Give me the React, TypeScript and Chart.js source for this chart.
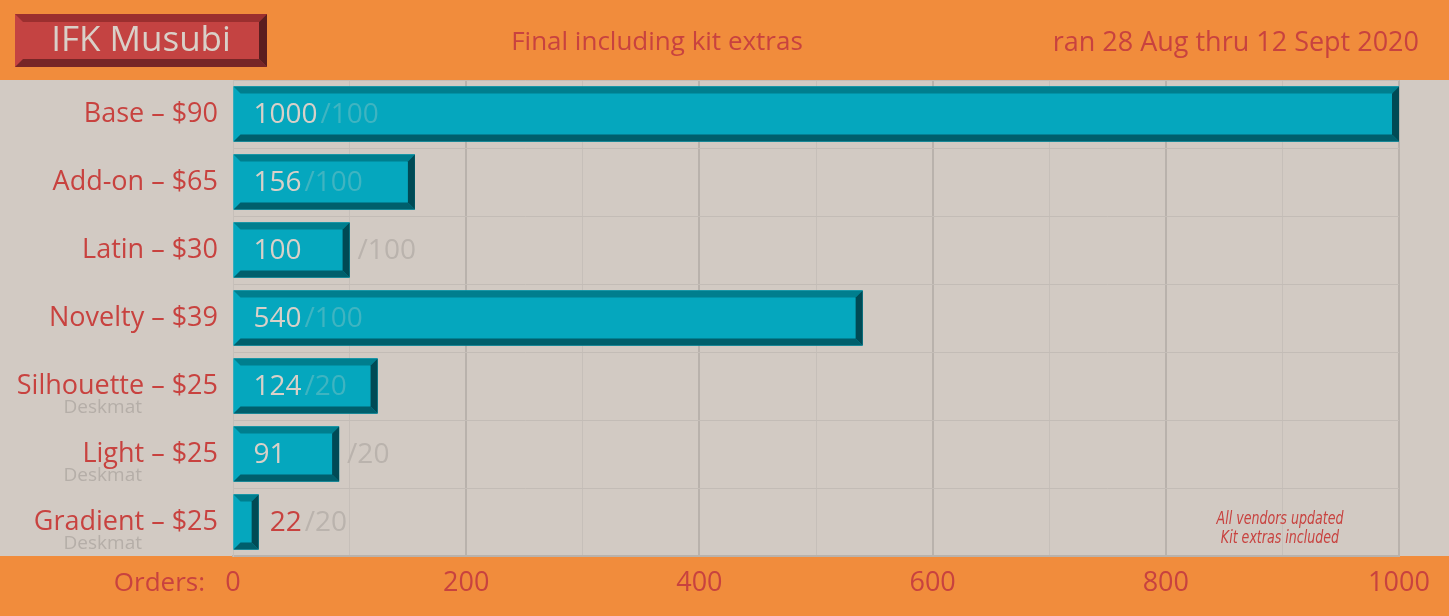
import React, { useEffect, useRef } from 'react';
import { Chart, registerables } from 'chart.js';

Chart.register(...registerables);

const categories = ['Base – $90', 'Add-on – $65', 'Latin – $30', 'Novelty – $39', 'Silhouette – $25', 'Light – $25', 'Gradient – $25'];
const subLabels = ['', '', '', '', 'Deskmat', 'Deskmat', 'Deskmat'];
const orders = [1000, 156, 100, 540, 124, 91, 22];
const minimums = [100, 100, 100, 100, 20, 20, 20];
const xMin = 0;
const xMax = 1000;
const xGridStep = 100;
const xLabelStep = 200;
const title = 'IFK Musubi';
const subtitle = 'Final including kit extras';
const dateRange = 'ran 28 Aug thru 12 Sept 2020';
const axisTitle = 'Orders:';
const noteLines = ['All vendors updated', 'Kit extras included'];

const FONT = "'Open Sans', 'Noto Sans', sans-serif";
const ORANGE = '#F18C3C';
const BEIGE = '#D2CAC3';
const RED = '#C8423F';
const LIGHT = '#D9D0C8';
const GRAY = '#BAB3AD';

function bevelRect(
  ctx: CanvasRenderingContext2D,
  l: number, t: number, r: number, b: number, s: number,
  fill: string, top: string, bottom: string, right: string
) {
  ctx.fillStyle = fill;
  ctx.fillRect(l, t, r - l, b - t);
  ctx.fillStyle = top;
  ctx.beginPath();
  ctx.moveTo(l, t); ctx.lineTo(r, t); ctx.lineTo(r - s, t + s); ctx.lineTo(l + s, t + s);
  ctx.closePath(); ctx.fill();
  ctx.fillStyle = bottom;
  ctx.beginPath();
  ctx.moveTo(l, b); ctx.lineTo(r, b); ctx.lineTo(r - s, b - s); ctx.lineTo(l + s, b - s);
  ctx.closePath(); ctx.fill();
  ctx.fillStyle = right;
  ctx.beginPath();
  ctx.moveTo(r, t); ctx.lineTo(r, b); ctx.lineTo(r - s, b - s); ctx.lineTo(r - s, t + s);
  ctx.closePath(); ctx.fill();
}

const decorPlugin = {
  id: 'decor',
  beforeDraw(chart: any) {
    const ctx: CanvasRenderingContext2D = chart.ctx;
    const { width, height, chartArea } = chart;
    ctx.save();
    ctx.fillStyle = BEIGE;
    ctx.fillRect(0, 0, width, height);
    ctx.fillStyle = ORANGE;
    ctx.fillRect(0, 0, width, chartArea.top);
    ctx.fillRect(0, chartArea.bottom, width, height - chartArea.bottom);
    ctx.restore();
  },
  afterDatasetsDraw(chart: any) {
    const ctx: CanvasRenderingContext2D = chart.ctx;
    const meta = chart.getDatasetMeta(0);
    ctx.save();
    const valueFont = `28px ${FONT}`;
    meta.data.forEach((el: any, i: number) => {
      const p = el.getProps(['x', 'y', 'base', 'height'], true);
      const l = Math.min(p.base, p.x);
      const r = Math.max(p.base, p.x);
      const t = p.y - p.height / 2;
      const b = p.y + p.height / 2;
      bevelRect(ctx, l, t, r, b, 7, '#05A7BE', '#007E8E', '#005F6C', '#004A55');

      ctx.font = valueFont;
      ctx.textBaseline = 'middle';
      ctx.textAlign = 'left';
      const vText = String(orders[i]);
      const sText = '/' + minimums[i];
      const vW = ctx.measureText(vText).width;
      const sW = ctx.measureText(sText).width;
      const pad = 20;
      const ty = p.y + 1;
      if (l + pad + vW <= r - pad) {
        ctx.fillStyle = LIGHT;
        ctx.fillText(vText, l + pad, ty);
        const sx = l + pad + vW + 3;
        if (sx + sW <= r - pad) {
          ctx.fillStyle = '#3FB4C1';
          ctx.fillText(sText, sx, ty);
        } else {
          ctx.fillStyle = GRAY;
          ctx.fillText(sText, r + 8, ty);
        }
      } else {
        ctx.fillStyle = RED;
        ctx.fillText(vText, r + 11, ty);
        ctx.fillStyle = GRAY;
        ctx.fillText(sText, r + 11 + vW + 3, ty);
      }
    });
    ctx.restore();
  },
  afterDraw(chart: any) {
    const ctx: CanvasRenderingContext2D = chart.ctx;
    const yScale = chart.scales.y;
    const { chartArea } = chart;
    ctx.save();
    // sub labels
    ctx.font = `19px ${FONT}`;
    ctx.fillStyle = '#B5AEA8';
    ctx.textAlign = 'right';
    ctx.textBaseline = 'middle';
    subLabels.forEach((s, i) => {
      if (!s) return;
      ctx.fillText(s, 142, yScale.getPixelForValue(i) + 22);
    });
    // title box
    bevelRect(ctx, 15, 14, 267, 67, 8, '#C44342', '#9B2F2F', '#772627', '#5B1E1F');
    ctx.font = `35px ${FONT}`;
    ctx.fillStyle = LIGHT;
    ctx.textAlign = 'center';
    ctx.fillText(title, 141, 41);
    // header texts
    ctx.fillStyle = RED;
    ctx.font = `26px ${FONT}`;
    ctx.textAlign = 'center';
    ctx.fillText(subtitle, 657, 43);
    ctx.font = `27px ${FONT}`;
    ctx.textAlign = 'right';
    ctx.fillText(dateRange, 1419, 43);
    // axis title
    ctx.font = `26px ${FONT}`;
    ctx.textAlign = 'right';
    ctx.fillText(axisTitle, 205, chartArea.bottom + 28);
    // note (condensed italic)
    ctx.font = `italic 18px 'Liberation Sans Narrow', 'DejaVu Sans Condensed', sans-serif`;
    ctx.textAlign = 'center';
    noteLines.forEach((line, k) => {
      ctx.save();
      ctx.translate(1280, 519 + k * 19);
      ctx.scale(0.78, 1);
      ctx.fillText(line, 0, 0);
      ctx.restore();
    });
    ctx.restore();
  },
};

export default function App() {
  const ref = useRef<HTMLCanvasElement>(null);
  useEffect(() => {
    document.body.style.margin = '0';
    const chart = new Chart(ref.current!, {
      type: 'bar',
      data: {
        labels: categories,
        datasets: [
          {
            data: orders,
            backgroundColor: '#05A7BE',
            borderWidth: 0,
            barPercentage: 0.81,
            categoryPercentage: 1,
          },
        ],
      },
      options: {
        indexAxis: 'y',
        animation: false,
        responsive: false,
        devicePixelRatio: 1,
        layout: { padding: { top: 80, right: 50, left: 0, bottom: 0 } },
        plugins: { legend: { display: false }, tooltip: { enabled: false } },
        scales: {
          x: {
            min: xMin,
            max: xMax,
            afterFit: (s: any) => { s.height = 60; },
            ticks: {
              stepSize: xGridStep,
              autoSkip: false,
              maxRotation: 0,
              padding: 11,
              color: RED,
              font: { family: FONT, size: 27 },
              callback: (v: any) => (Number(v) % xLabelStep === 0 ? String(v) : ''),
            },
            grid: {
              drawTicks: false,
              color: (c: any) => (c.tick && c.tick.value % xLabelStep === 0 && c.tick.value !== 0 ? '#B9B2AC' : '#C6BFB9'),
              lineWidth: (c: any) => (c.tick && c.tick.value % xLabelStep === 0 && c.tick.value !== 0 ? 2 : 1),
            },
            border: { color: '#B9B2AC', width: 2 },
          },
          y: {
            afterFit: (s: any) => { s.width = 233; },
            ticks: {
              padding: 15,
              color: RED,
              font: { family: FONT, size: 27 },
            },
            grid: { drawTicks: false, color: '#C3BCB6', lineWidth: 1 },
            border: { color: '#C6BFB9', width: 1 },
          },
        },
      },
      plugins: [decorPlugin],
    });
    return () => chart.destroy();
  }, []);
  return (
    <div style={{ position: 'fixed', left: 0, top: 0, width: 1449, height: 616 }}>
      <canvas ref={ref} width={1449} height={616} />
    </div>
  );
}
